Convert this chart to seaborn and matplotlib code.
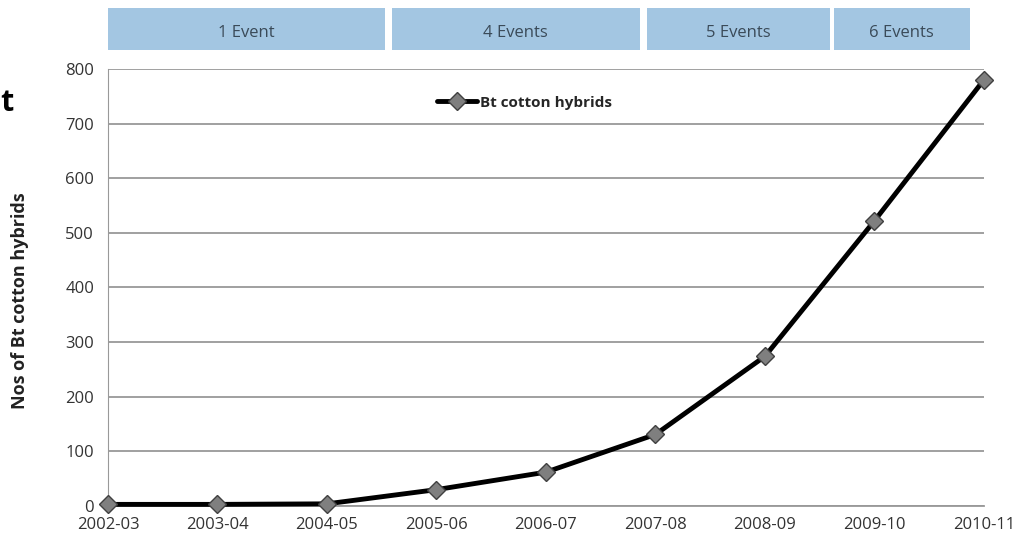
"""Bt cotton hybrids approved per season, with event bands on top."""

import matplotlib.pyplot as plt
import matplotlib.transforms as mtransforms
import pandas as pd
import seaborn as sb
from matplotlib.patches import Rectangle

seasons = [
    "2002-03", "2003-04", "2004-05", "2005-06", "2006-07",
    "2007-08", "2008-09", "2009-10", "2010-11",
]
hybrids = [3, 3, 4, 30, 62, 131, 274, 522, 780]
series_name = "Bt cotton hybrids"
event_labels = ["1 Event", "4 Events", "5 Events", "6 Events"]
# band edges along the season axis (start, end)
event_spans = [(0.0, 2.53), (2.59, 4.86), (4.92, 6.59), (6.63, 7.87)]

df = pd.DataFrame({"pos": range(len(seasons)), "n": hybrids})

sb.set_style("white")
plt.rcParams["font.family"] = ["Open Sans", "DejaVu Sans"]

fig = plt.figure(figsize=(10.33, 5.54), dpi=100)
ax = fig.add_axes([0.1045, 0.0866, 0.848, 0.789])

sb.lineplot(
    data=df, x="pos", y="n", ax=ax, color="black", linewidth=3.5,
    marker="D", markersize=9.5, markerfacecolor="#7f7f7f",
    markeredgecolor="#404040", markeredgewidth=1, label=series_name,
    clip_on=False, zorder=5,
)

ax.set_xlim(0, len(seasons) - 1)
ax.set_ylim(0, 800)
ax.set_xticks(range(len(seasons)))
ax.set_xticklabels(seasons)
ax.set_yticks(range(0, 801, 100))
ax.grid(axis="y", color="#999999", linewidth=1.3)
ax.set_axisbelow(True)
for side in ["top", "right"]:
    ax.spines[side].set_visible(False)
ax.spines["left"].set_color("#999999")
ax.spines["bottom"].set_color("#999999")
ax.spines["bottom"].set_linewidth(1.3)
ax.tick_params(axis="both", colors="#555555", labelsize=12, length=4, width=1)
ax.tick_params(axis="x", pad=4)
ax.tick_params(axis="y", pad=6)
for lbl in ax.get_xticklabels() + ax.get_yticklabels():
    lbl.set_color("#333333")

ax.set_xlabel("")
ax.set_ylabel("Nos of Bt cotton hybrids", fontsize=13, fontweight="bold",
              color="#222222")
ax.yaxis.set_label_coords(-0.09, 0.47)

leg = ax.legend(loc="upper left", bbox_to_anchor=(0.36, 0.97), frameon=False,
                handlelength=2.6, handletextpad=0.2,
                prop={"size": 11, "weight": "bold"})

# event bands above the plot
trans = mtransforms.blended_transform_factory(ax.transData, ax.transAxes)
for label, (x0, x1) in zip(event_labels, event_spans):
    ax.add_patch(Rectangle((x0, 1.043), x1 - x0, 0.097, transform=trans,
                           facecolor="#a3c6e2", edgecolor="none", clip_on=False))
    ax.text((x0 + x1) / 2, 1.083, label, transform=trans, ha="center",
            va="center", fontsize=12, color="#3a4a58")

# stray cropped glyph at the left edge of the original
fig.text(0.0, 0.80, "t", fontsize=22, fontweight="bold", color="black")

fig.savefig("out.png", dpi=100)
